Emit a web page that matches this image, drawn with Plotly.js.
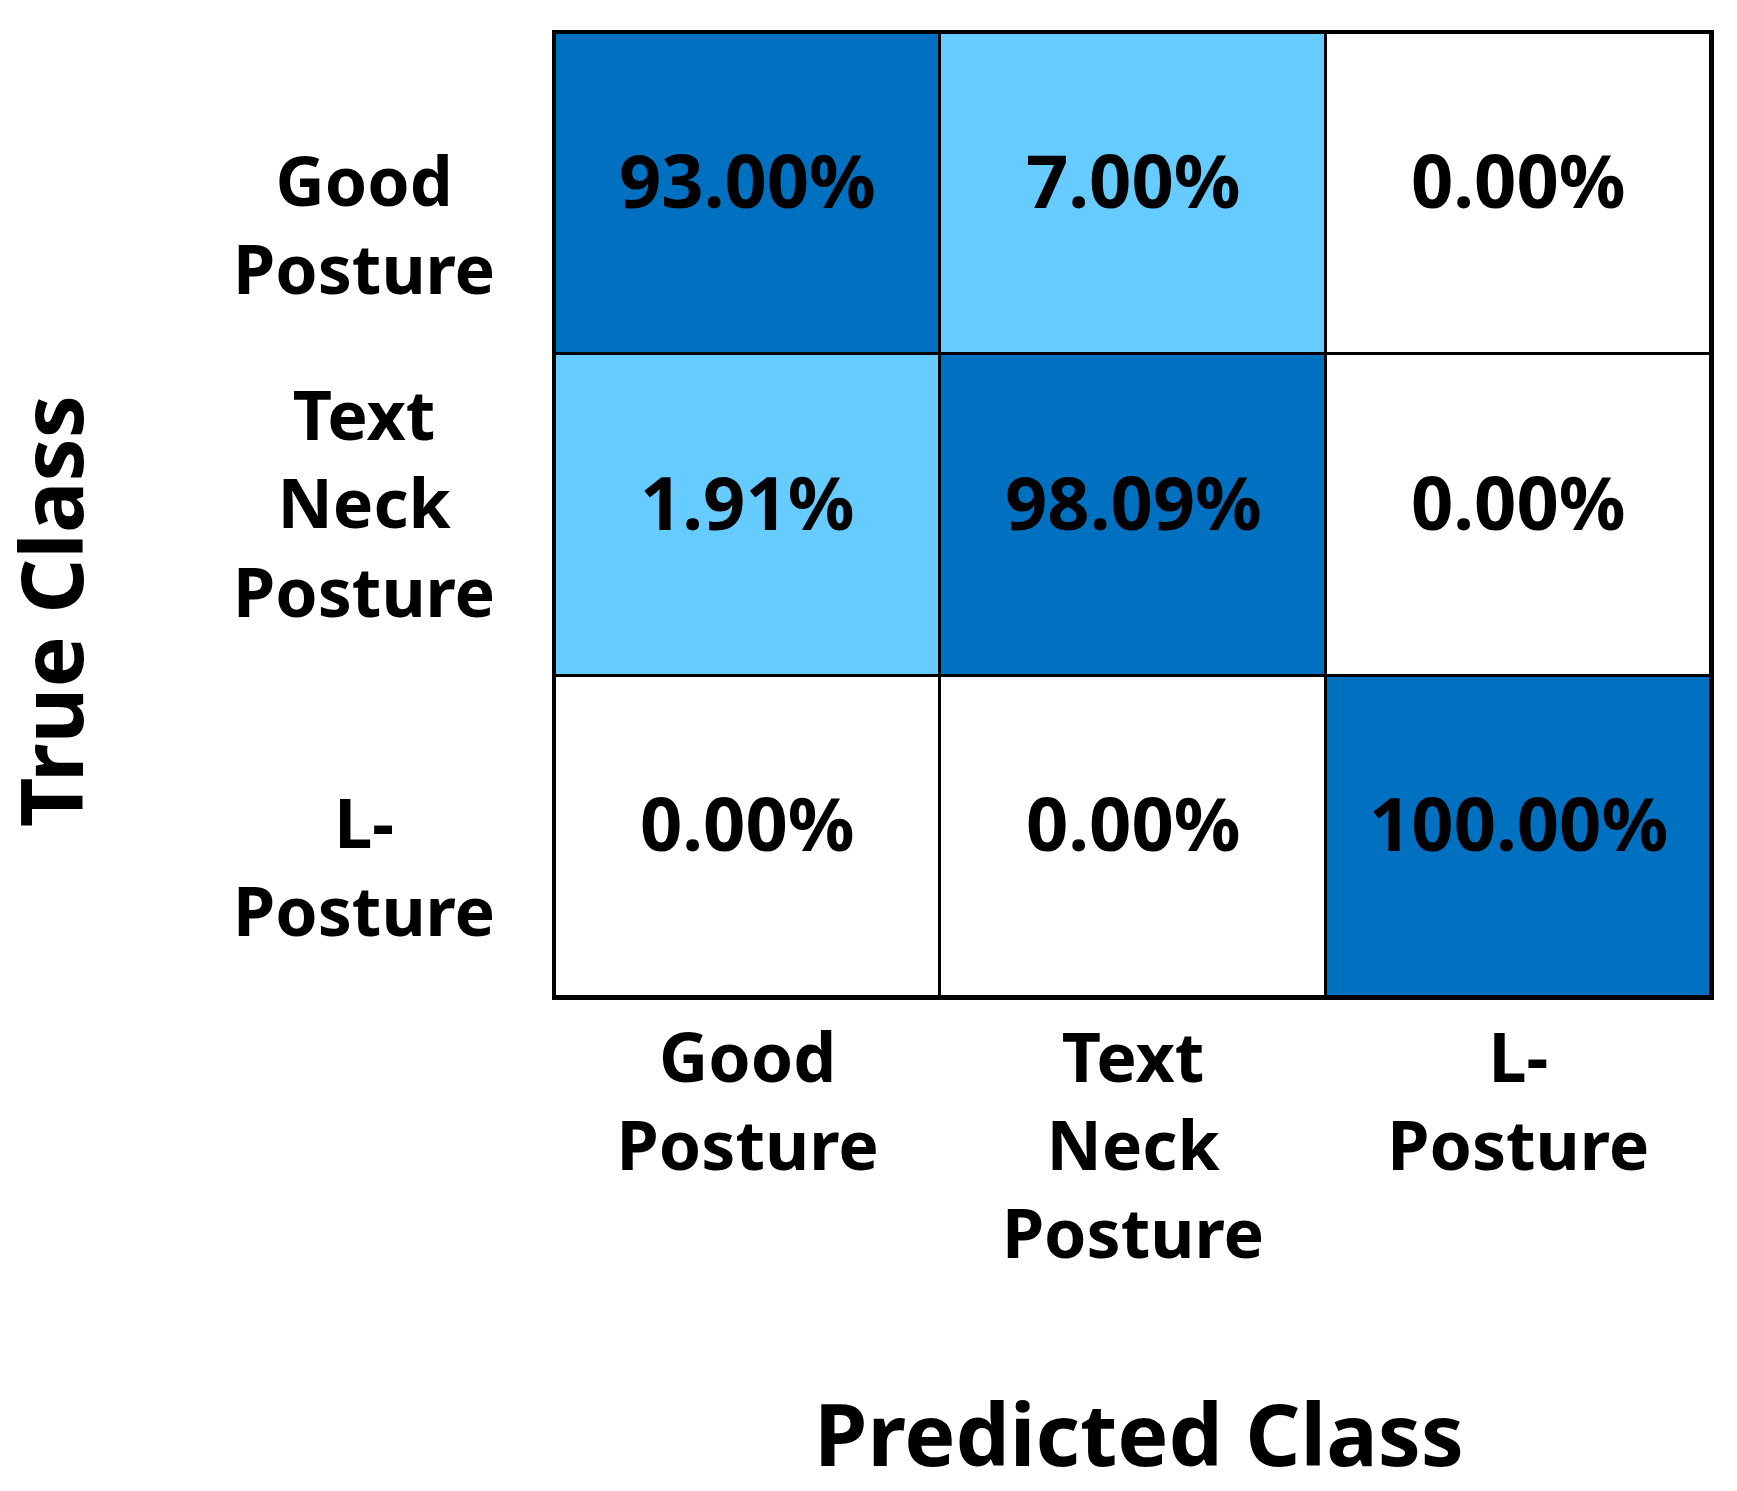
<!DOCTYPE html>
<html>
<head>
<meta charset="utf-8">
<script src="https://cdn.plot.ly/plotly-3.0.1.min.js"></script>
<style>
  body { margin: 0; background: #fff; }
</style>
</head>
<body>
<div id="plotly-div"></div>
<script>
// class names (rows = true, columns = predicted)
var predLabels = ['Good<br>Posture', 'Text<br>Neck<br>Posture', 'L-<br>Posture'];
var trueLabels = ['Good<br>Posture', 'Text<br>Neck<br>Posture', 'L-<br>Posture'];

// confusion matrix in percent
var rowGood = [93.00, 7.00, 0.00];
var rowText = [1.91, 98.09, 0.00];
var rowL    = [0.00, 0.00, 100.00];

var font = '"Noto Sans", "Open Sans", sans-serif';
var z = [rowGood, rowText, rowL];

var heat = {
  type: 'heatmap',
  x: predLabels,
  y: trueLabels,
  z: z,
  zmin: 0,
  zmax: 100,
  colorscale: [
    [0, '#ffffff'], [0.005, '#ffffff'],
    [0.005, '#66CCFF'], [0.5, '#66CCFF'],
    [0.5, '#0070C0'], [1, '#0070C0']
  ],
  showscale: false,
  xgap: 3,
  ygap: 3,
  hoverinfo: 'skip'
};

var annots = [];

// cell values, sitting a little above the cell middle as in the original
z.forEach(function (row, i) {
  row.forEach(function (v, j) {
    annots.push({
      text: v.toFixed(2) + '%', xref: 'x', yref: 'y',
      x: predLabels[j], y: trueLabels[i], yshift: 14,
      xanchor: 'center', yanchor: 'middle', showarrow: false,
      font: {family: font, size: 74, color: '#000', weight: 'bold'}
    });
  });
});

// row labels drawn centred, like the reference
var rowShift = [-30, 13, -29];
trueLabels.forEach(function (lab, i) {
  annots.push({
    text: lab, xref: 'paper', yref: 'y', x: -0.165, y: lab, yshift: rowShift[i],
    xanchor: 'center', yanchor: 'middle', align: 'center', showarrow: false,
    font: {family: font, size: 68, color: '#000', weight: 'bold'}
  });
});

annots.push({
  text: 'True Class', textangle: -90, xref: 'paper', yref: 'paper',
  x: -0.437, y: 0.40, xanchor: 'center', yanchor: 'middle', showarrow: false,
  font: {family: font, size: 86, color: '#000', weight: 'bold'}
});
annots.push({
  text: 'Predicted Class', xref: 'paper', yref: 'paper',
  x: 0.505, y: -0.452, xanchor: 'center', yanchor: 'middle', showarrow: false,
  font: {family: font, size: 86, color: '#000', weight: 'bold'}
});

var layout = {
  width: 1737,
  height: 1491,
  margin: {l: 555, r: 26, t: 33, b: 494, pad: 0},
  paper_bgcolor: '#fff',
  plot_bgcolor: '#000',
  font: {family: font, color: '#000'},
  xaxis: {
    side: 'bottom',
    ticks: '',
    tickfont: {family: font, size: 68, color: '#000', weight: 'bold'},
    showline: true, linecolor: '#000', linewidth: 3, mirror: true,
    showgrid: false, zeroline: false, fixedrange: true
  },
  yaxis: {
    autorange: 'reversed',
    showticklabels: false, ticks: '',
    showline: true, linecolor: '#000', linewidth: 3, mirror: true,
    showgrid: false, zeroline: false, fixedrange: true
  },
  annotations: annots,
  showlegend: false
};

Plotly.newPlot('plotly-div', [heat], layout, {staticPlot: true});
</script>
</body>
</html>
